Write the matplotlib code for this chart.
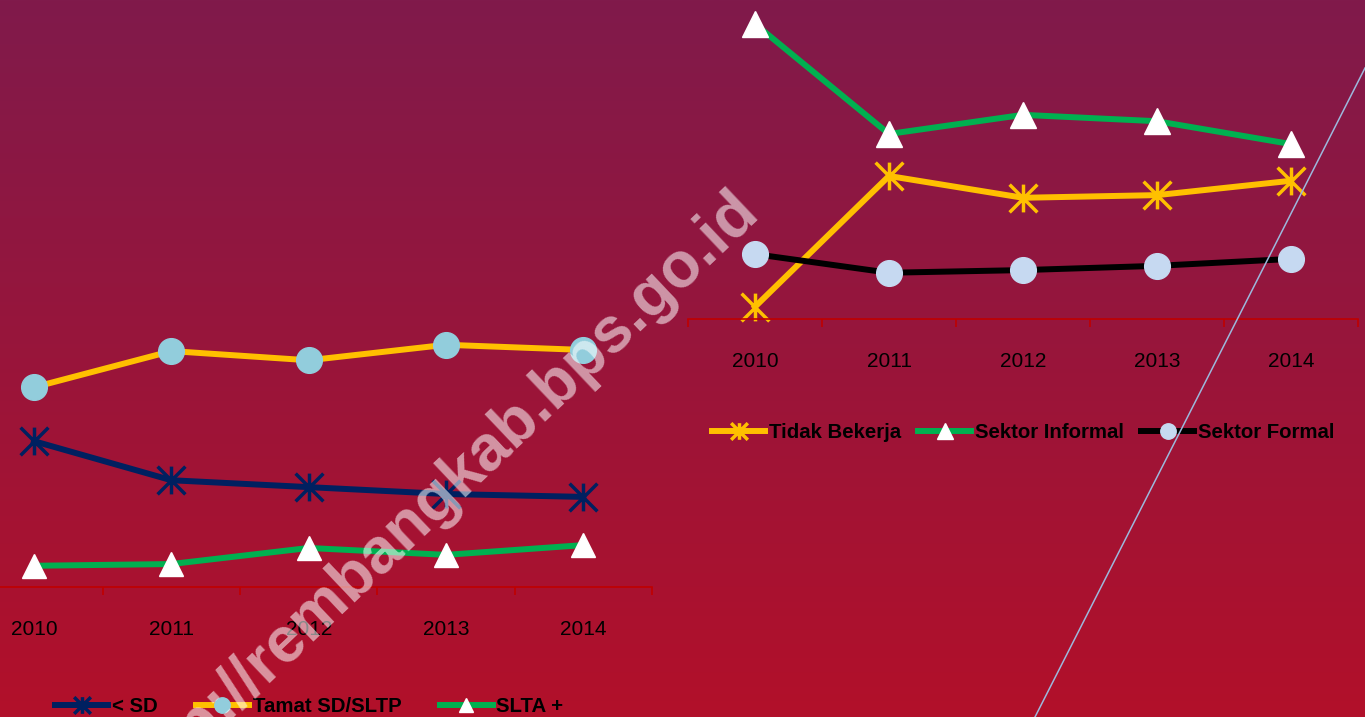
"""Tren pendidikan dan status pekerjaan, 2010-2014."""

import numpy as np
import matplotlib

matplotlib.use("Agg")
import matplotlib.pyplot as plt
from matplotlib import font_manager
from matplotlib.lines import Line2D
from matplotlib.path import Path

years = ["2010", "2011", "2012", "2013", "2014"]

# kiri: pendidikan
kurang_sd = [25.4, 18.6, 17.4, 16.2, 15.7]
tamat_sd_sltp = [34.8, 41.1, 39.5, 42.2, 41.3]
slta_plus = [3.7, 4.0, 6.8, 5.6, 7.3]

# kanan: status pekerjaan
tidak_bekerja = [2.3, 26.9, 22.8, 23.3, 26.0]
sektor_informal = [55.5, 34.8, 38.4, 37.2, 32.9]
sektor_formal = [12.2, 8.7, 9.2, 10.0, 11.3]

W, H = 1365, 717

installed = {f.name for f in font_manager.fontManager.ttflist}
if "Liberation Sans Narrow" in installed:
    label_family, label_size, legend_size = "Liberation Sans Narrow", 16.5, 16.5
else:
    label_family, label_size, legend_size = "Liberation Sans", 15, 14.7

# Excel-style star: X plus vertical bar
star = Path(
    [(-1, -1), (1, 1), (-1, 1), (1, -1), (0, -1), (0, 1)],
    [Path.MOVETO, Path.LINETO, Path.MOVETO, Path.LINETO, Path.MOVETO, Path.LINETO],
)

fig = plt.figure(figsize=(W / 100, H / 100), dpi=100)

# background gradient
bg = fig.add_axes([0, 0, 1, 1], zorder=-10)
top = np.array([0x80, 0x1a, 0x4b]) / 255
bottom = np.array([0xb2, 0x10, 0x2a]) / 255
t = np.linspace(0, 1, 256)[:, None, None]
bg.imshow(top * (1 - t) + bottom * t, aspect="auto", extent=[0, 1, 0, 1])
bg.set_axis_off()


def px_axes(x0, x1, y_top, y_axis):
    return fig.add_axes([x0 / W, (H - y_axis) / H, (x1 - x0) / W, (y_axis - y_top) / H])


def style_axis(ax, ymax, pad):
    ax.set_xlim(-0.5, 4.5)
    ax.set_ylim(0, ymax)
    ax.patch.set_visible(False)
    for side in ("top", "left", "right"):
        ax.spines[side].set_visible(False)
    ax.spines["bottom"].set_color("#c00000")
    ax.spines["bottom"].set_linewidth(1.2)
    ax.set_yticks([])
    ax.set_xticks(range(len(years)))
    ax.set_xticklabels(years, family=[label_family, "DejaVu Sans"], fontsize=label_size)
    ax.set_xticks(np.arange(-0.5, 5, 1), minor=True)
    ax.tick_params(axis="x", which="major", length=0, pad=pad)
    ax.tick_params(axis="x", which="minor", length=5.5, width=1.2, color="#c00000")


lw = 4.3
legend_font = {"family": [label_family, "DejaVu Sans"], "weight": "bold", "size": legend_size}
em = legend_size * 100 / 72

# left chart
ax1 = px_axes(-34.6, 652, 300, 587)
style_axis(ax1, 50, 24)
x = range(len(years))
ax1.plot(x, kurang_sd, color="#002060", lw=lw, marker=star, ms=20, mew=2.5,
         mec="#002060", label="< SD", clip_on=False)
ax1.plot(x, tamat_sd_sltp, color="#ffc000", lw=lw, marker="o", ms=18.5,
         mfc="#92cddc", mec="#92cddc", label="Tamat SD/SLTP", clip_on=False)
ax1.plot(x, slta_plus, color="#00b050", lw=lw, marker="^", ms=17.5,
         mfc="white", mec="white", label="SLTA +", clip_on=False)
ax1.legend(loc="center left", bbox_to_anchor=(55 / W, (H - 707) / H),
           bbox_transform=fig.transFigure, ncol=3, frameon=False,
           handlelength=53 / em, handletextpad=4 / em, columnspacing=38 / em,
           borderaxespad=0, borderpad=0, markerscale=0.6, prop=legend_font)

# right chart
ax2 = px_axes(688, 1358, 0, 319)
style_axis(ax2, 60, 23.5)
ax2.plot(x, tidak_bekerja, color="#ffc000", lw=lw, marker=star, ms=20, mew=2.5,
         mec="#ffc000", label="Tidak Bekerja", clip_on=False)
ax2.plot(x, sektor_informal, color="#00b050", lw=lw, marker="^", ms=18.5,
         mfc="white", mec="white", label="Sektor Informal", clip_on=False)
ax2.plot(x, sektor_formal, color="black", lw=lw, marker="o", ms=18.5,
         mfc="#c6d9f1", mec="#c6d9f1", label="Sektor Formal", clip_on=False)
ax2.legend(loc="center left", bbox_to_anchor=(712 / W, (H - 433) / H),
           bbox_transform=fig.transFigure, ncol=3, frameon=False,
           handlelength=53 / em, handletextpad=4 / em, columnspacing=17 / em,
           borderaxespad=0, borderpad=0, markerscale=0.6, prop=legend_font)

# watermark
fig.text(437 / W, (H - 497) / H, "http://rembangkab.bps.go.id", rotation=43.5,
         rotation_mode="anchor", ha="center", va="center", fontsize=46,
         family="Liberation Sans", weight="bold", color="white", alpha=0.55, zorder=5)

# thin diagonal line on the right
fig.add_artist(Line2D([1035 / W, 1], [0, (H - 68) / H], color="#9db8dc", lw=1.1, zorder=6))

fig.savefig("out.png", dpi=100)
